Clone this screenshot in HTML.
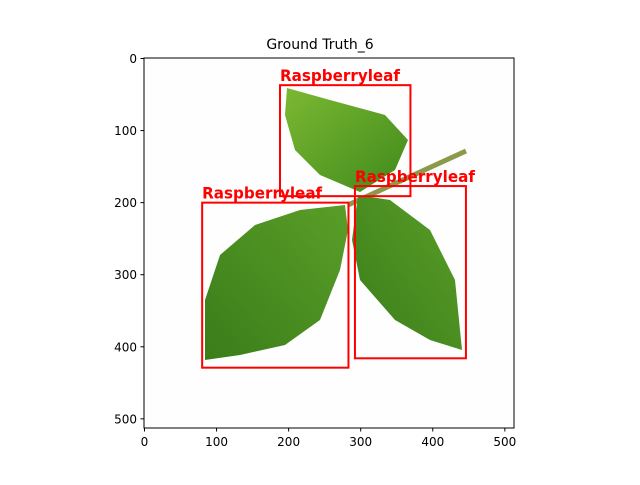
<!DOCTYPE html>
<html><head><meta charset="utf-8"><style>
body{margin:0;background:#fff;font-family:"Liberation Sans","DejaVu Sans",sans-serif}
svg text{font-family:"DejaVu Sans","Liberation Sans",sans-serif}
</style></head><body>
<svg id="c" width="640" height="480" viewBox="0 0 640 480">
<defs>
<linearGradient id="g1" x1="0" y1="0" x2="1" y2="1"><stop offset="0" stop-color="#7cb832"/><stop offset="1" stop-color="#3f8a1c"/></linearGradient>
<linearGradient id="g2" x1="1" y1="0" x2="0" y2="1"><stop offset="0" stop-color="#5a9e28"/><stop offset="1" stop-color="#3a7d1a"/></linearGradient>
</defs>
<rect x="144" y="58" width="370" height="370" fill="#fefefe"/>
<line x1="348" y1="205" x2="466" y2="151" stroke="#8a9a4a" stroke-width="5"/>
<polygon points="287,88 330,100 385,115 408,140 395,170 360,192 320,175 295,150 285,115" fill="url(#g1)"/>
<polygon points="345,205 300,210 255,225 220,255 205,300 205,360 240,355 285,345 320,320 340,270 348,230" fill="url(#g2)"/>
<polygon points="358,195 390,200 430,230 455,280 462,350 430,340 395,320 360,280 352,240" fill="url(#g2)"/>
<g id="boxes"></g>
<rect x="144" y="58" width="370" height="370" fill="none" stroke="#000" stroke-width="1"/>
<g id="ticks"></g>
<text x="320" y="49" text-anchor="middle" font-size="14">Ground Truth_6</text>
</svg>
<script>
const boxLabels=["Raspberryleaf","Raspberryleaf","Raspberryleaf"];
const boxX0=[188,80,292];
const boxY0=[37,200,177];
const boxX1=[369,283,446];
const boxY1=[191,429,416];
const xTicks=[0,100,200,300,400,500];
const yTicks=[0,100,200,300,400,500];
const ns="http://www.w3.org/2000/svg";
const sx=v=>144.5+0.7207*v, sy=v=>58.5+0.7207*v;
const B=document.getElementById('boxes'),T=document.getElementById('ticks');
function mk(t,a,p){const e=document.createElementNS(ns,t);for(const k in a)e.setAttribute(k,a[k]);p.appendChild(e);return e;}
boxLabels.forEach((l,i)=>{
 const r=mk('rect',{x:sx(boxX0[i]),y:sy(boxY0[i]),width:sx(boxX1[i])-sx(boxX0[i]),height:sy(boxY1[i])-sy(boxY0[i]),fill:'none',stroke:'#ff0000','stroke-width':2},B);
 
 
 const t=mk('text',{x:sx(boxX0[i]),y:sy(boxY0[i])-4,fill:'#ff0000','font-size':16,'font-weight':'bold',textLength:120,lengthAdjust:'spacingAndGlyphs'},B);
 t.textContent=l;
 
 
});
xTicks.forEach(v=>{
 const l=mk('line',{x1:sx(v),x2:sx(v),y1:428,y2:431.5,stroke:'#000'},T);
 
 
 const t=mk('text',{x:sx(v),y:446,'text-anchor':'middle','font-size':12},T);
 t.textContent=v;
 
 
});
yTicks.forEach(v=>{
 const l=mk('line',{x1:140.5,x2:144,y1:sy(v),y2:sy(v),stroke:'#000'},T);
 
 
 const t=mk('text',{x:137,y:sy(v)+4.5,'text-anchor':'end','font-size':12},T);
 t.textContent=v;
 
 
});
</script>
</body></html>
